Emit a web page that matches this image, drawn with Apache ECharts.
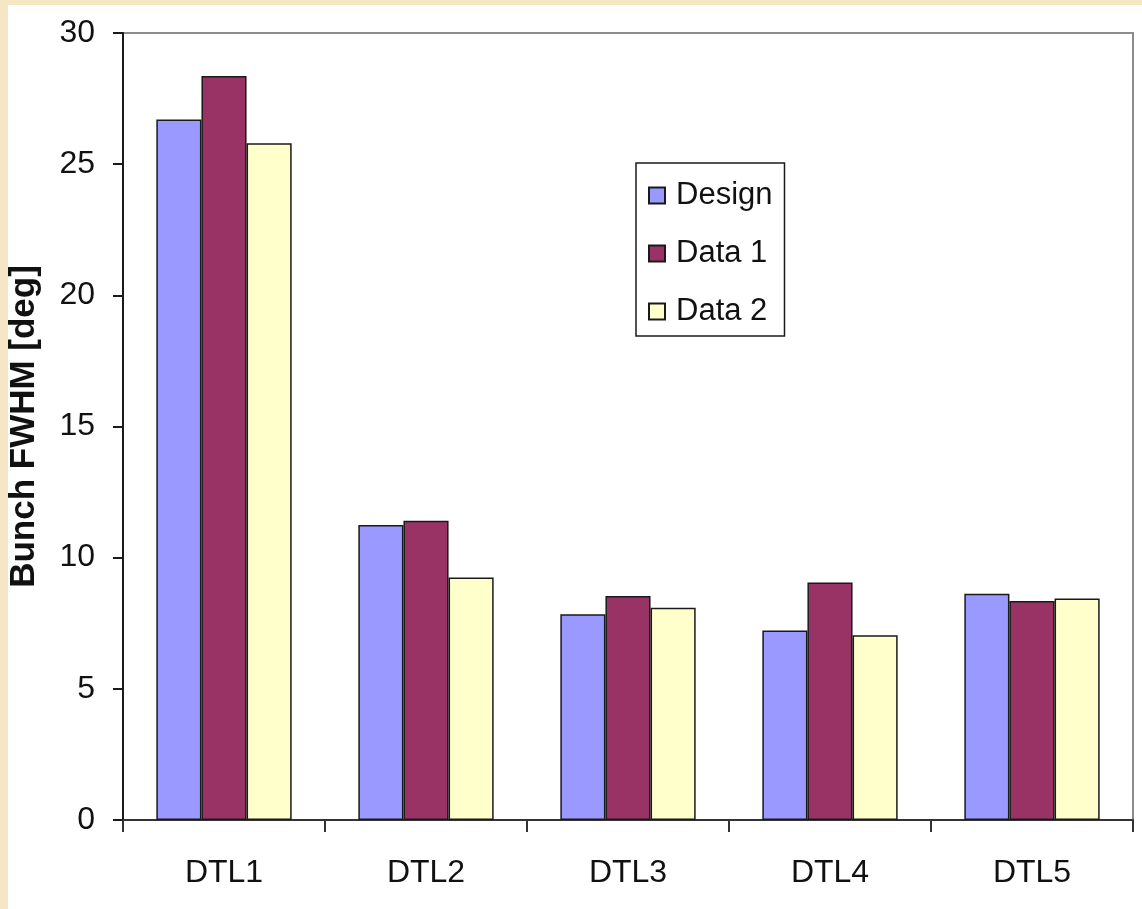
<!DOCTYPE html>
<html>
<head>
<meta charset="utf-8">
<script src="https://cdn.jsdelivr.net/npm/echarts@6/dist/echarts.min.js"></script>
<style>
  html, body { margin: 0; padding: 0; width: 1142px; height: 909px; overflow: hidden;
    background: #f6e7c4; }
  #chart { position: absolute; left: 8px; top: 5px; width: 1134px; height: 904px; background: #fff; }
</style>
</head>
<body>
<div id="chart"></div>
<script>
// Bunch FWHM per DTL tank: design value and two measurement sets
const categories = ['DTL1', 'DTL2', 'DTL3', 'DTL4', 'DTL5'];
const seriesNames = ['Design', 'Data 1', 'Data 2'];
const designValues = [26.7, 11.25, 7.84, 7.22, 8.62];
const data1Values = [28.36, 11.41, 8.54, 9.05, 8.35];
const data2Values = [25.8, 9.24, 8.09, 7.04, 8.44];
const yTicks = [0, 5, 10, 15, 20, 25, 30];

const colors = ['#9999ff', '#993366', '#ffffcc'];
const font = 'Liberation Sans, Arial, sans-serif';

const chart = echarts.init(document.getElementById('chart'), null, { renderer: 'canvas' });

function barSeries(name, values, color) {
  return {
    name: name,
    type: 'bar',
    data: values,
    barGap: '0%',
    barCategoryGap: '33%',
    itemStyle: { color: color, borderColor: '#1a1a1a', borderWidth: 1.5 },
    emphasis: { disabled: true }
  };
}

chart.setOption({
  animation: false,
  backgroundColor: '#ffffff',
  grid: {
    left: 115, top: 28, right: 9, bottom: 89,
    outerBoundsMode: 'none',
    containLabel: false,
    show: true, borderColor: '#8c8c8c', borderWidth: 2, backgroundColor: 'transparent'
  },
  legend: {
    orient: 'vertical',
    left: 628, top: 158,
    data: seriesNames,
    icon: 'rect',
    itemWidth: 16, itemHeight: 16,
    itemGap: 27,
    padding: [17, 12, 9, 12],
    borderColor: '#1a1a1a', borderWidth: 1.5,
    backgroundColor: '#fff',
    textStyle: { fontFamily: font, fontSize: 31, color: '#111', padding: [0, 0, 0, 6] },
    selectedMode: false
  },
  xAxis: {
    type: 'category',
    data: categories,
    axisLine: { lineStyle: { color: '#333', width: 2 } },
    axisTick: { show: true, length: 12, lineStyle: { color: '#333', width: 2 } },
    axisLabel: { fontFamily: font, fontSize: 32, color: '#111', margin: 37 }
  },
  yAxis: {
    type: 'value',
    min: yTicks[0],
    max: yTicks[yTicks.length - 1],
    interval: yTicks[1] - yTicks[0],
    name: 'Bunch FWHM [deg]',
    nameLocation: 'middle',
    nameGap: 81,
    nameRotate: 90,
    nameTextStyle: { fontFamily: font, fontSize: 35, fontWeight: 'bold', color: '#111' },
    axisLine: { show: true, lineStyle: { color: '#1a1a1a', width: 2 } },
    axisTick: { show: true, length: 10, lineStyle: { color: '#1a1a1a', width: 2 } },
    axisLabel: { fontFamily: font, fontSize: 32, color: '#111', margin: 28 },
    splitLine: { show: false }
  },
  series: [
    barSeries(seriesNames[0], designValues, colors[0]),
    barSeries(seriesNames[1], data1Values, colors[1]),
    barSeries(seriesNames[2], data2Values, colors[2])
  ]
});
</script>
</body>
</html>
